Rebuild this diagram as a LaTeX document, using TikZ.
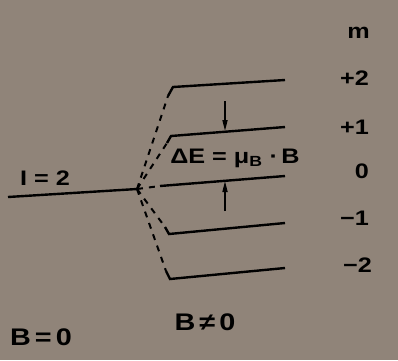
\documentclass[tikz,border=0pt]{standalone}
\usepackage{fontspec}
\setmainfont[FakeStretch=1.2]{Liberation Sans}
\usetikzlibrary{arrows.meta}
\definecolor{paper}{RGB}{144,132,121}
\tikzset{
  lvl/.style={line width=2.4pt},
  split/.style={line width=2pt, dash pattern=on 6pt off 6pt},
  gap/.style={line width=1.6pt, -{Triangle[length=11pt,width=5pt]}},
  lbl/.style={font=\bfseries\fontsize{21}{21}\selectfont, inner sep=0pt},
  mlbl/.style={lbl, anchor=east},
  blbl/.style={font=\bfseries\fontsize{24}{24}\selectfont, inner sep=0pt}
}
\begin{document}
\begin{tikzpicture}[x=1pt, y=-1pt]
  \fill[paper] (0,0) rectangle (398,360);

  % B = 0
  \coordinate (l0) at (8,197); \coordinate (l1) at (137,189);
  \draw[lvl] (l0) -- (l1);
  \node[lbl] (I) at (45,178) {I\,\,=\,\,2};

  % B != 0
  \coordinate (p2a) at (168,96);  \coordinate (p2b) at (173,87);  \coordinate (p2c) at (285,80);
  \coordinate (p1a) at (167,143); \coordinate (p1b) at (171,136); \coordinate (p1c) at (285,127);
  \coordinate (z0a) at (160,186); \coordinate (z0c) at (285,176);
  \coordinate (m1a) at (165,227); \coordinate (m1b) at (169,234); \coordinate (m1c) at (285,223);
  \coordinate (m2a) at (166,271); \coordinate (m2b) at (170,279); \coordinate (m2c) at (285,268);
  \draw[lvl] (p2a) -- (p2b) -- (p2c);
  \draw[lvl] (p1a) -- (p1b) -- (p1c);
  \draw[lvl] (z0a) -- (z0c);
  \draw[lvl] (m1a) -- (m1b) -- (m1c);
  \draw[lvl] (m2a) -- (m2b) -- (m2c);

  \foreach \t in {p2a,p1a,z0a,m1a,m2a}
    \draw[split] (l1) -- (\t);

  \coordinate (up) at (225,101);  \coordinate (upend) at (225,131);
  \coordinate (dn) at (225,211);  \coordinate (dnend) at (225,181);
  \draw[gap] (up) -- (upend);
  \draw[gap] (dn) -- (dnend);
  \node[lbl] (dE) at (235,158) {ΔE\,\,=\,\,μ\textsubscript{B}\,\,·\,B};

  \node[mlbl] (m)  at (370,33)  {m};
  \node[mlbl] (mp2) at (369,78)  {+2};
  \node[mlbl] (mp1) at (369,127) {+1};
  \node[mlbl] (m0)  at (369,171) {0};
  \node[mlbl] (mm1) at (369,218) {−1};
  \node[mlbl] (mm2) at (372,265) {−2};

  \node[blbl] (B0) at (41,337) {B\,=\,0};
  \node[blbl] (B1) at (205,322) {B\,≠\,0};
\end{tikzpicture}
\end{document}
